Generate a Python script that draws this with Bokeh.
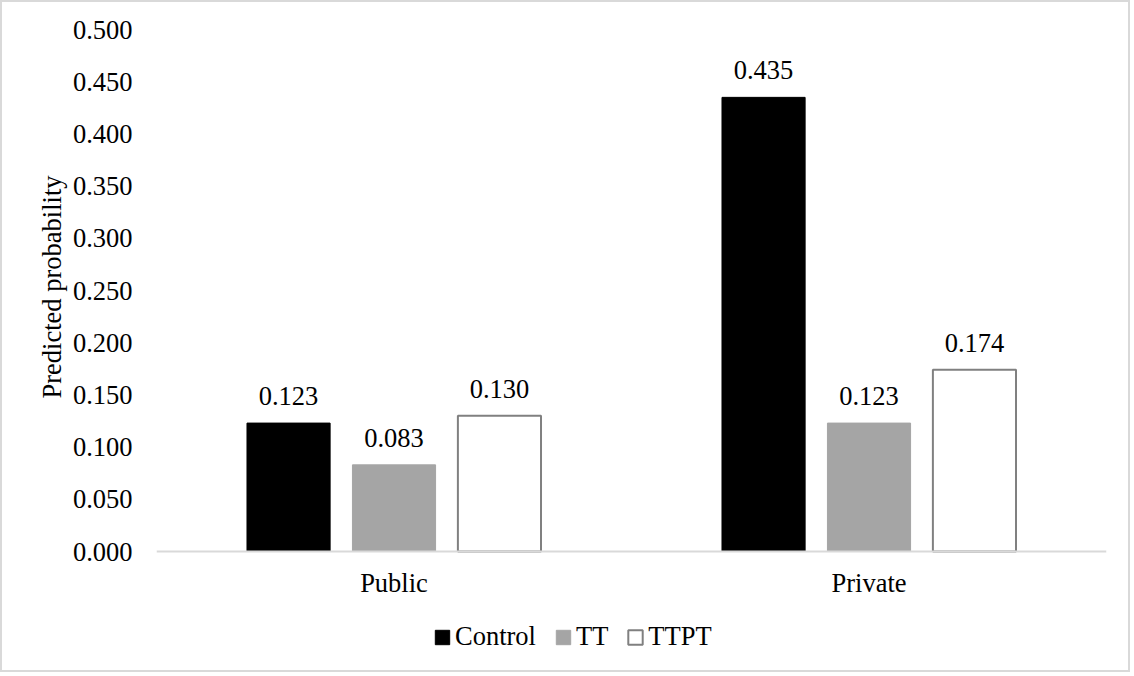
from bokeh.plotting import figure
from bokeh.models import (ColumnDataSource, FactorRange, Range1d, LabelSet, NumeralTickFormatter,
                          LegendItem, Legend, Title)
from bokeh.transform import dodge
from bokeh.embed import file_html
from bokeh.resources import INLINE

categories = ["Public", "Private"]
series_names = ["Control", "TT", "TTPT"]
control = [0.123, 0.435]
tt = [0.083, 0.123]
ttpt = [0.130, 0.174]
y_ticks = [0.0, 0.05, 0.10, 0.15, 0.20, 0.25, 0.30, 0.35, 0.40, 0.45, 0.50]

FONT = "Liberation Serif"
FS = "26.5px"

# frame extends below zero so that category labels and legend live inside it
FRAME_H = 640
Y_MIN = -0.5 * (FRAME_H - 522) / 522

p = figure(x_range=FactorRange(*categories), y_range=Range1d(Y_MIN, 0.5),
           width=1130, height=672, output_backend="svg", toolbar_location=None,
           min_border_left=154, min_border_right=26, min_border_top=27,
           min_border_bottom=672 - 27 - FRAME_H)
p.styles = {"border": "2px solid #d9d9d9"}
p.background_fill_color = "white"
p.border_fill_color = "white"
p.outline_line_color = None
p.xgrid.grid_line_color = None
p.ygrid.grid_line_color = None

styles = [
    dict(fill_color="#000000", line_color="#000000", line_width=1),
    dict(fill_color="#a5a5a5", line_color="#a5a5a5", line_width=1),
    dict(fill_color="#ffffff", line_color="#808080", line_width=2),
]
offsets = [-0.222, 0.0, 0.222]
values = [control, tt, ttpt]

items = []
for name, vals, off, st in zip(series_names, values, offsets, styles):
    src = ColumnDataSource(dict(cat=categories, val=vals, lab=[f"{v:.3f}" for v in vals]))
    r = p.vbar(x=dodge("cat", off, range=p.x_range), top="val", width=0.175, source=src, **st)
    items.append(LegendItem(label=name, renderers=[r]))
    lbl = LabelSet(x=dodge("cat", off, range=p.x_range), y="val", text="lab", source=src,
                   text_align="center", text_baseline="alphabetic", y_offset=18,
                   text_font=FONT, text_font_size=FS, text_color="#000000")
    p.add_layout(lbl)

p.yaxis.ticker = y_ticks
p.yaxis.formatter = NumeralTickFormatter(format="0.000")
p.yaxis.axis_line_color = None
p.yaxis.major_tick_line_color = None
p.yaxis.minor_tick_line_color = None
p.yaxis.major_label_standoff = 18
p.yaxis.major_label_text_font = FONT
p.yaxis.major_label_text_font_size = FS
p.yaxis.major_label_text_color = "#000000"

ytitle = Title(text="Predicted probability", align="right", offset=146, standoff=5,
               text_font=FONT, text_font_size=FS, text_font_style="normal",
               text_color="#000000")
p.add_layout(ytitle, "left")

p.xaxis.fixed_location = 0
p.xaxis.axis_line_color = "#d9d9d9"
p.xaxis.axis_line_width = 2
p.xaxis.major_tick_line_color = None
p.xaxis.minor_tick_line_color = None
p.xaxis.major_label_standoff = 10
p.xaxis.major_label_text_font = FONT
p.xaxis.major_label_text_font_size = FS
p.xaxis.major_label_text_color = "#000000"

leg = Legend(items=items, orientation="horizontal", location=(277, 17))
leg.border_line_color = None
leg.background_fill_alpha = 0
leg.padding = 0
leg.margin = 0
leg.spacing = 18
leg.glyph_width = 18
leg.glyph_height = 18
leg.label_standoff = 4
leg.label_text_font = FONT
leg.label_text_font_size = FS
leg.label_text_color = "#000000"
p.add_layout(leg, "center")

open("out.html", "w").write(file_html(p, INLINE))
